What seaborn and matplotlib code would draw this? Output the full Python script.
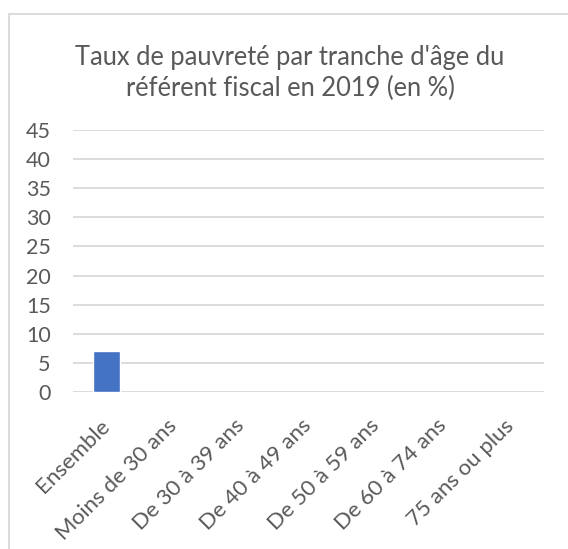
import numpy as np
import pandas as pd
import matplotlib
matplotlib.use("Agg")
import matplotlib.pyplot as plt
import seaborn as sns
from matplotlib.patches import Rectangle

categories = ["Ensemble", "Moins de 30 ans", "De 30 à 39 ans", "De 40 à 49 ans",
              "De 50 à 59 ans", "De 60 à 74 ans", "75 ans ou plus"]
values = [7.0, np.nan, np.nan, np.nan, np.nan, np.nan, np.nan]
yticks = [0, 5, 10, 15, 20, 25, 30, 35, 40, 45]
title = "Taux de pauvreté par tranche d'âge du\nréférent fiscal en 2019 (en %)"

sns.set_style("white")
plt.rcParams['font.family'] = ['Lato', 'DejaVu Sans']

df = pd.DataFrame({"cat": categories, "val": values})

fig = plt.figure(figsize=(5.68, 5.49), dpi=100)
ax = fig.add_axes([73 / 568, 1 - 392 / 549, 471 / 568, 262 / 549])

sns.barplot(data=df, x="cat", y="val", order=categories, color="#4472c4",
            saturation=1, width=0.4, ax=ax)

ax.set_ylim(0, 45)
ax.set_yticks(yticks)
ax.set_xlim(-0.5, len(categories) - 0.5)
ax.yaxis.grid(True, color="#d9d9d9", linewidth=1.3)
ax.set_axisbelow(True)
for s in ax.spines.values():
    s.set_visible(False)
ax.tick_params(axis="y", length=0, colors="#595959", labelsize=15.5, pad=16)
ax.tick_params(axis="x", length=0, pad=22)
ax.set_xticks(range(len(categories)))
ax.set_xticklabels(categories, rotation=45, ha="right", rotation_mode="anchor",
                   fontsize=16, color="#595959")
for lbl in ax.get_xticklabels():
    lbl.set_va("center")
ax.set_xlabel("")
ax.set_ylabel("")

fig.text(290 / 568, 1 - 73 / 549, title, ha="center", va="center", fontsize=18.4,
         color="#595959", linespacing=1.3)

fig.patches.append(Rectangle((9 / 568, -0.05), 1.0, 1.05 - 14 / 549,
                             transform=fig.transFigure, fill=False,
                             edgecolor="#d9d9d9", linewidth=1.3))

fig.savefig("out.png", dpi=100)
